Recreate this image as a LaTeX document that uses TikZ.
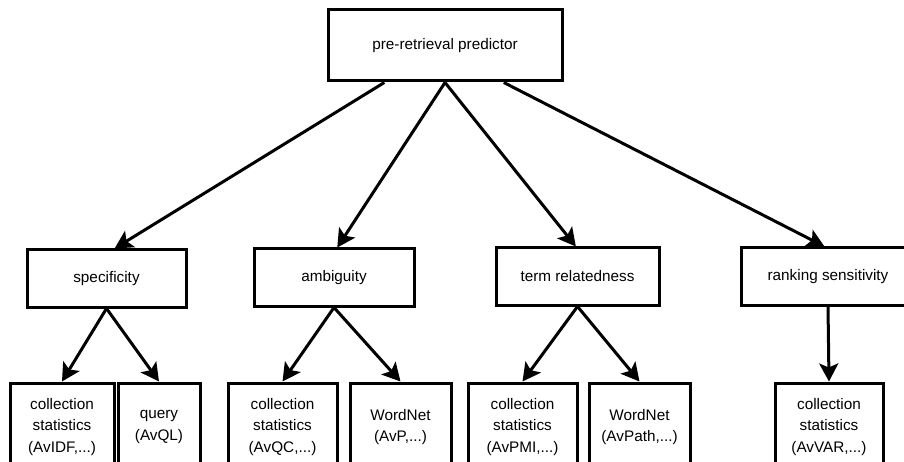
\documentclass[tikz,border=0pt]{standalone}
\usepackage{fontspec}
\setmainfont{Liberation Sans}
\usetikzlibrary{arrows.meta,calc}
\begin{document}
\begin{tikzpicture}[x=1pt,y=-1pt,
  box/.style={draw,line width=3pt,inner sep=0pt,align=center,
    font=\fontsize{15.3}{21.5}\selectfont},
  arr/.style={line width=3pt,-{Stealth[length=18pt,width=19pt,inset=4pt]}}]
\useasboundingbox (0,0) rectangle (904,462);
\clip (0,0) rectangle (904,462);
\node[box,minimum width=234pt,minimum height=71pt] (top) at (445,45.5) {pre-retrieval predictor};
\node[box,minimum width=159pt,minimum height=57pt] (spec) at (106.5,278.5) {specificity};
\node[box,minimum width=160pt,minimum height=57pt] (amb) at (334,277.5) {ambiguity};
\node[box,minimum width=163pt,minimum height=57pt] (term) at (577.5,276.5) {term relatedness};
\node[box,minimum width=174pt,minimum height=57pt] (rank) at (828,276.5) {ranking sensitivity};
\node[box,minimum width=104pt,minimum height=88pt] (b1) at (62,427) {collection\\statistics\\(AvIDF,...)};
\node[box,minimum width=82pt,minimum height=88pt] (b2) at (159,427) {query\\(AvQL)};
\node[box,minimum width=109pt,minimum height=88pt] (b3) at (282.5,427) {collection\\statistics\\(AvQC,...)};
\node[box,minimum width=101pt,minimum height=88pt] (b4) at (400.5,427) {WordNet\\(AvP,...)};
\node[box,minimum width=109pt,minimum height=88pt] (b5) at (522.5,427) {collection\\statistics\\(AvPMI,...)};
\node[box,minimum width=101pt,minimum height=88pt] (b6) at (639.5,427) {WordNet\\(AvPath,...)};
\node[box,minimum width=108pt,minimum height=88pt] (b7) at (829,427) {collection\\statistics\\(AvVAR,...)};
\draw[arr] ($(top.south west)!0.244!(top.south east)$) -- ($(spec.north west)!0.55!(spec.north east)$);
\draw[arr] (top.south) -- ($(amb.north west)!0.52!(amb.north east)$);
\draw[arr] (top.south) -- ($(term.north west)!0.49!(term.north east)$);
\draw[arr] ($(top.south west)!0.748!(top.south east)$) -- ($(rank.north west)!0.48!(rank.north east)$);
\draw[arr] (spec.south) -- (b1.north);
\draw[arr] (spec.south) -- (b2.north);
\draw[arr] (amb.south) -- (b3.north);
\draw[arr] (amb.south) -- (b4.north);
\draw[arr] (term.south) -- (b5.north);
\draw[arr] (term.south) -- (b6.north);
\draw[arr] (rank.south) -- (b7.north);
\end{tikzpicture}
\end{document}
